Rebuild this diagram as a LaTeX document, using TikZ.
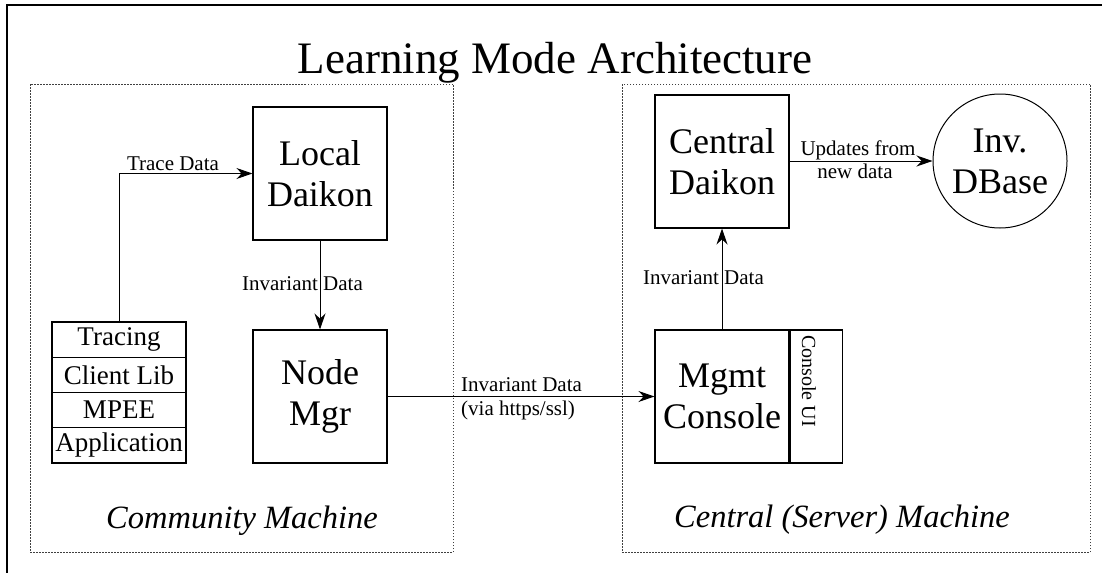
\documentclass[tikz,border=0pt]{standalone}
\usepackage{fontspec}
\setmainfont{Liberation Serif}
\usetikzlibrary{arrows.meta}
\tikzset{
  boxtxt/.style={font=\fontsize{36}{41}\selectfont},
  bigbox/.style={draw, line width=1.1pt, rectangle, inner sep=0pt, minimum width=134pt, minimum height=133pt, align=center, boxtxt},
  stackrow/.style={draw, line width=1.1pt, rectangle, inner sep=0pt, minimum width=134pt, minimum height=35.25pt, font=\fontsize{27}{30}\selectfont},
  lbl/.style={font=\fontsize{21}{24}\selectfont, inner sep=0pt},
  grp/.style={draw=black!75, line width=1pt, dash pattern=on 1.5pt off 1.5pt},
  grptxt/.style={font=\fontsize{32.5}{36}\selectfont\itshape, inner sep=0pt},
  arr/.style={line width=1pt, -{Stealth[length=16pt,width=11pt]}},
}
\begin{document}
\begin{tikzpicture}[x=1pt,y=-1pt]
\useasboundingbox (0,0) rectangle (1102,573);
% outer frame (top and left edges visible)
\draw[line width=2pt] (1102,5) -- (7,5) -- (7,573);
% title
\node[font=\fontsize{45}{50}\selectfont, inner sep=0pt, anchor=base] (title) at (555,73) {Learning Mode Architecture};
% group frames
\draw[grp] (30,84) rectangle (453,552);
\draw[grp] (622,84) rectangle (1090,552);
\node[grptxt, anchor=base] (cmlbl) at (242,528) {Community Machine};
\node[grptxt, anchor=base] (cslbl) at (842,527) {Central (Server) Machine};
% community machine
\node[bigbox] (LD) at (320,173.5) {Local\\Daikon};
\node[bigbox] (NM) at (320,396.5) {Node\\Mgr};
\node[stackrow] (s1) at (119,339.6) {Tracing};
\node[stackrow] (s2) at (119,374.9) {Client Lib};
\node[stackrow] (s3) at (119,410.1) {MPEE};
\node[stackrow] (s4) at (119,445.4) {Application};
% central machine
\node[bigbox] (CD) at (722,161.5) {Central\\Daikon};
\node[bigbox] (MC) at (722,396.5) {Mgmt\\Console};
\node[draw, line width=1.1pt, rectangle, inner sep=0pt, minimum width=52pt, minimum height=133pt, anchor=west] (UI) at (MC.east) {};
\node[lbl, rotate=-90, font=\fontsize{20}{24}\selectfont] (uitxt) at (809,381) {Console UI};
\node[draw, circle, line width=1pt, minimum size=134pt, inner sep=0pt, align=center, boxtxt] (DB) at (1000,161) {Inv.\\DBase};
% connectors
\draw[arr] (s1.north) |- (LD.west);
\node[lbl, anchor=base] (tdl) at (173,170) {Trace Data};
\draw[arr] (LD.south) -- (NM.north);
\node[lbl, anchor=base] (idl1) at (302.5,290) {Invariant Data};
\draw[arr] (NM.east) -- (MC.west);
\node[lbl, anchor=base west] (idl2) at (461,391) {Invariant Data};
\node[lbl, anchor=base west] (idl3) at (461,415) {(via https/ssl)};
\draw[arr] (MC.north) -- (CD.south);
\node[lbl, anchor=base] (idl4) at (703.5,284) {Invariant Data};
\draw[arr] (CD.east |- DB.west) -- (DB.west);
\node[lbl, anchor=base] (upl1) at (858,155) {Updates from};
\node[lbl, anchor=base] (upl2) at (855,178) {new data};
\end{tikzpicture}
\end{document}
